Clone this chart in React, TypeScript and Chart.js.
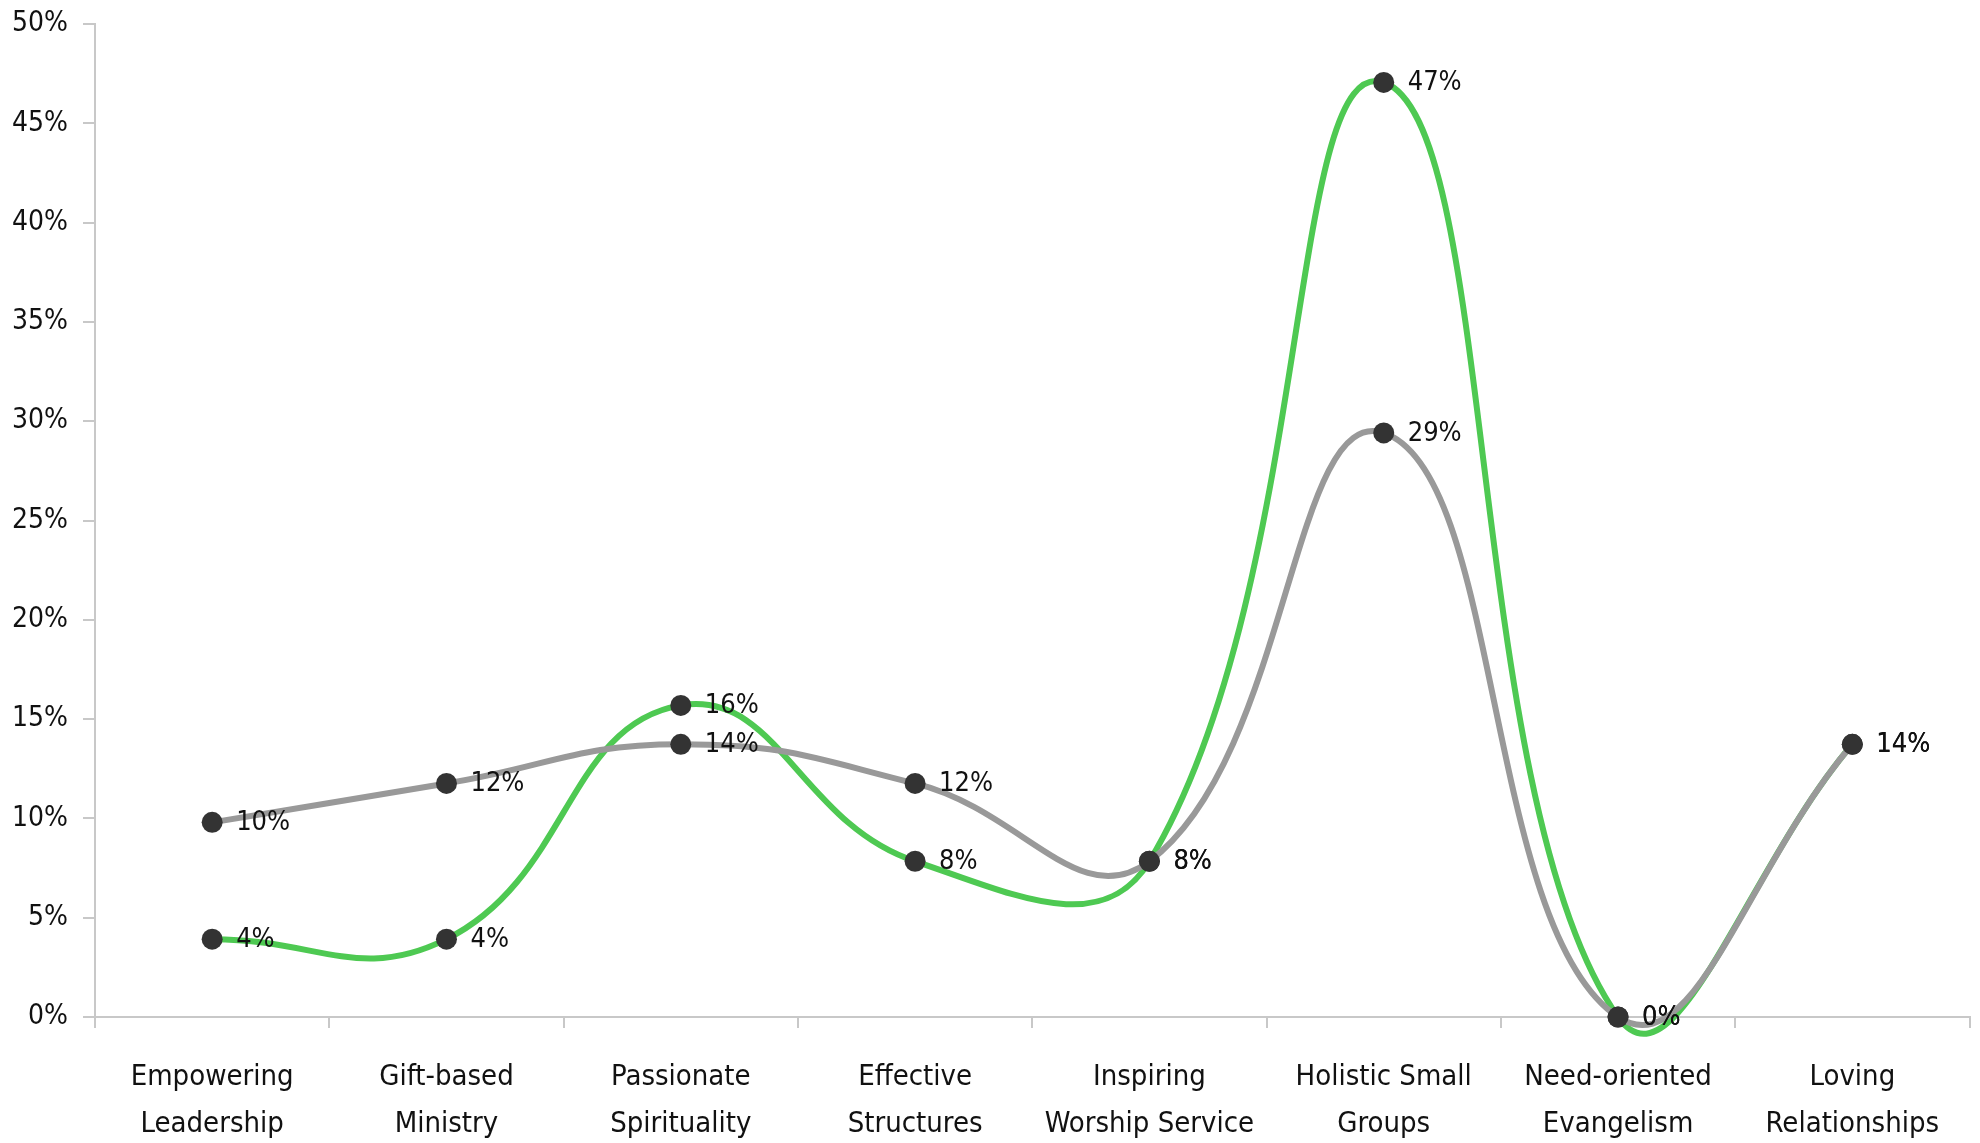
import React, { useEffect, useRef } from "react";
import { Chart, registerables } from "chart.js";

Chart.register(...registerables);

const categories: string[][] = [
  ["Empowering", "Leadership"],
  ["Gift-based", "Ministry"],
  ["Passionate", "Spirituality"],
  ["Effective", "Structures"],
  ["Inspiring", "Worship Service"],
  ["Holistic Small", "Groups"],
  ["Need-oriented", "Evangelism"],
  ["Loving", "Relationships"],
];

const grayValues: number[] = [9.8, 11.76, 13.73, 11.76, 7.84, 29.41, 0, 13.73];
const greenValues: number[] = [3.92, 3.92, 15.69, 7.84, 7.84, 47.06, 0, 13.73];

const yTicksMax = 50;
const yTickStep = 5;

const FONT = "'DejaVu Sans Condensed', 'DejaVu Sans', sans-serif";
const W = 1980;
const H = 1143;

const labelPlugin = {
  id: "pointLabels",
  afterDatasetsDraw(chart: any) {
    const ctx = chart.ctx;
    ctx.save();
    ctx.font = `27px ${FONT}`;
    ctx.fillStyle = "#111111";
    ctx.textAlign = "left";
    ctx.textBaseline = "middle";
    chart.data.datasets.forEach((ds: any, di: number) => {
      const meta = chart.getDatasetMeta(di);
      meta.data.forEach((pt: any, i: number) => {
        const v = ds.data[i] as number;
        ctx.fillText(`${Math.round(v)}%`, pt.x + 24, pt.y + 1);
      });
    });
    ctx.restore();
  },
};

export default function App() {
  const ref = useRef<HTMLCanvasElement | null>(null);
  useEffect(() => {
    if (!ref.current) return;
    const chart = new Chart(ref.current, {
      type: "line",
      data: {
        labels: categories,
        datasets: [
          {
            label: "Gray",
            data: grayValues,
            borderColor: "#999999",
            borderWidth: 6,
            tension: 0.45,
            pointRadius: 10.5,
            pointBackgroundColor: "#333333",
            pointBorderWidth: 0,
            clip: false as any,
          },
          {
            label: "Green",
            data: greenValues,
            borderColor: "#4EC952",
            borderWidth: 6,
            tension: 0.45,
            pointRadius: 10.5,
            pointBackgroundColor: "#333333",
            pointBorderWidth: 0,
            clip: false as any,
          },
        ],
      },
      options: {
        responsive: false,
        animation: false,
        devicePixelRatio: 1,
        layout: { padding: { top: 24, right: 0, left: 0, bottom: 0 } },
        elements: { line: { capBezierPoints: false } },
        plugins: {
          legend: { display: false },
          tooltip: { enabled: false },
        },
        scales: {
          x: {
            offset: true,
            grid: {
              offset: true,
              drawOnChartArea: false,
              drawTicks: true,
              tickLength: 11,
              color: "#C8C8C8",
              lineWidth: 2,
            },
            border: { color: "#C8C8C8", width: 2 },
            ticks: {
              color: "#111111",
              font: { family: FONT, size: 29, lineHeight: 1.62 },
              padding: 26,
              maxRotation: 0,
              autoSkip: false,
            },
            afterFit: (scale: any) => {
              scale.height = 126;
              scale.paddingRight = 0;
              scale.paddingLeft = 0;
            },
          },
          y: {
            min: 0,
            max: yTicksMax,
            grid: {
              drawOnChartArea: false,
              drawTicks: true,
              tickLength: 12,
              color: "#C8C8C8",
              lineWidth: 2,
            },
            border: { color: "#C8C8C8", width: 2 },
            ticks: {
              stepSize: yTickStep,
              color: "#111111",
              font: { family: FONT, size: 28 },
              padding: 15,
              callback: (v: any) => `${v}%`,
            },
            afterFit: (scale: any) => {
              scale.width = 95;
              scale.paddingTop = 0;
              scale.paddingBottom = 0;
            },
          },
        },
      },
      plugins: [labelPlugin],
    });
    return () => chart.destroy();
  }, []);
  return (
    <div style={{ position: "fixed", left: 0, top: 0, width: W, height: H, background: "#fff" }}>
      <canvas ref={ref} width={W} height={H} style={{ width: W, height: H, display: "block" }} />
    </div>
  );
}
